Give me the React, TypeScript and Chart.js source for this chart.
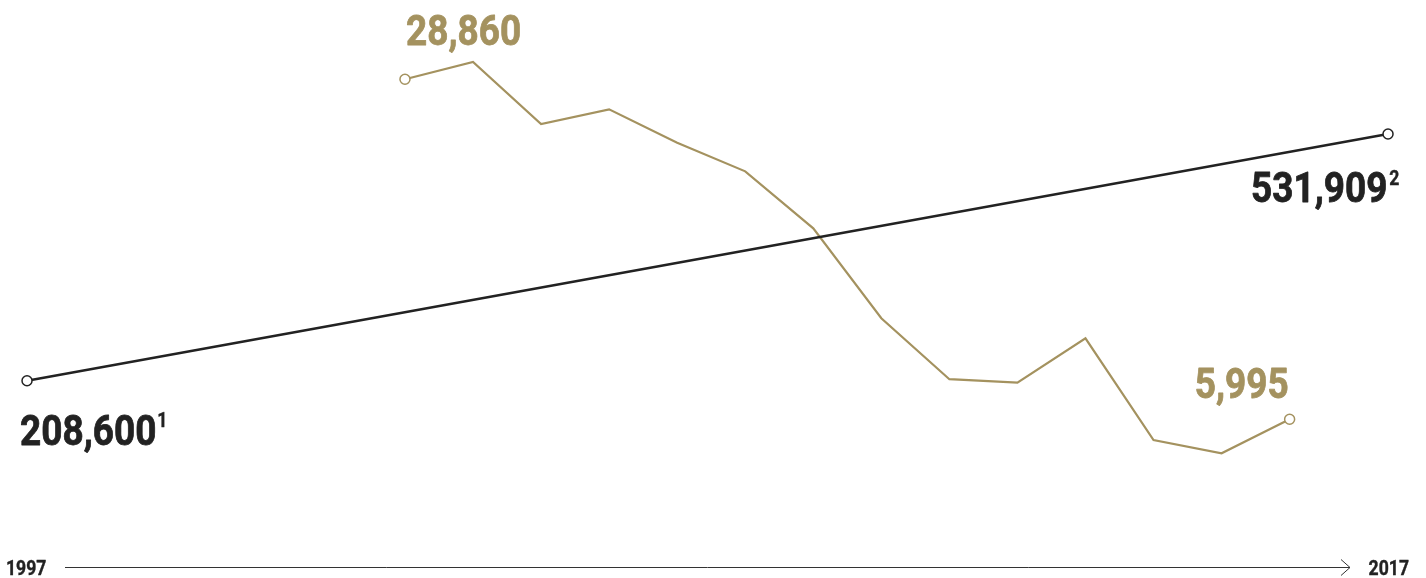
import React, { useEffect, useRef } from "react";
import { Chart, registerables } from "chart.js";

Chart.register(...registerables);

// Total series (two endpoints)
const totalYears = [1997, 2017];
const totalValues = [208600, 531909];
const totalLabels = ["208,600", "531,909"];
const totalNotes = ["1", "2"];

// Gold series
const goldYears = [2003, 2004, 2005, 2006, 2007, 2008, 2009, 2010, 2011, 2012, 2013, 2014, 2015, 2016];
const goldValues = [28860, 30020, 25850, 26840, 24600, 22670, 18840, 12790, 8690, 8460, 11440, 4600, 3710, 5995];
const goldLabels = ["28,860", "5,995"];

// Axis labels
const axisLabels = ["1997", "2017"];

const GOLD = "#a4925f";
const DARK = "#222222";
const FONT = "Roboto, 'Noto Sans', sans-serif";
const SQUEEZE = 0.88;

function drawText(
  ctx: CanvasRenderingContext2D,
  text: string,
  x: number,
  y: number,
  size: number,
  color: string,
  stroke = 0.8
): number {
  ctx.save();
  ctx.font = `bold ${size}px ${FONT}`;
  ctx.fillStyle = color;
  ctx.strokeStyle = color;
  ctx.lineWidth = stroke;
  ctx.lineJoin = "round";
  ctx.textAlign = "left";
  ctx.textBaseline = "alphabetic";
  const w = ctx.measureText(text).width * SQUEEZE;
  ctx.translate(x, y);
  ctx.scale(SQUEEZE, 1);
  ctx.fillText(text, 0, 0);
  if (stroke > 0) ctx.strokeText(text, 0, 0);
  ctx.restore();
  return w;
}

function measure(ctx: CanvasRenderingContext2D, text: string, size: number): number {
  ctx.save();
  ctx.font = `bold ${size}px ${FONT}`;
  const w = ctx.measureText(text).width * SQUEEZE;
  ctx.restore();
  return w;
}

const overlay = {
  id: "overlay",
  afterDraw(chart: any) {
    const ctx: CanvasRenderingContext2D = chart.ctx;
    const totalMeta = chart.getDatasetMeta(0);
    const goldMeta = chart.getDatasetMeta(1);
    const W = chart.width;

    // bottom time axis with arrow
    const ay = 567.5;
    ctx.save();
    ctx.strokeStyle = "#333";
    ctx.lineWidth = 1;
    ctx.beginPath();
    ctx.moveTo(65, ay);
    ctx.lineTo(1350, ay);
    ctx.moveTo(1341, ay - 8);
    ctx.lineTo(1350, ay);
    ctx.lineTo(1341, ay + 8);
    ctx.stroke();
    ctx.restore();
    drawText(ctx, axisLabels[0], 6, 575, 20, DARK, 0.4);
    drawText(ctx, axisLabels[1], W - 17 - measure(ctx, axisLabels[1], 20), 575, 20, DARK, 0.4);

    // total labels
    const p0 = totalMeta.data[0];
    const p1 = totalMeta.data[1];
    const w0 = drawText(ctx, totalLabels[0], p0.x - 7, p0.y + 64.5, 42, DARK);
    drawText(ctx, totalNotes[0], p0.x - 7 + w0 + 1, p0.y + 46.5, 20, DARK, 0.4);
    const w1 = drawText(ctx, totalLabels[1], p1.x - 137, p1.y + 68, 42, DARK);
    drawText(ctx, totalNotes[1], p1.x - 137 + w1 + 2, p1.y + 51, 20, DARK, 0.4);

    // gold labels
    const g0 = goldMeta.data[0];
    const gN = goldMeta.data[goldMeta.data.length - 1];
    drawText(ctx, goldLabels[0], g0.x + 1, g0.y - 34, 42, GOLD);
    drawText(ctx, goldLabels[1], gN.x - 1 - measure(ctx, goldLabels[1], 42), gN.y - 21, 42, GOLD);
  },
};

export default function App() {
  const ref = useRef<HTMLCanvasElement | null>(null);

  useEffect(() => {
    document.body.style.margin = "0";
    if (!ref.current) return;
    const last = goldValues.length - 1;
    const chart = new Chart(ref.current, {
      type: "line",
      data: {
        datasets: [
          {
            data: totalYears.map((x, i) => ({ x, y: totalValues[i] })),
            borderColor: DARK,
            borderWidth: 2.5,
            pointRadius: 5,
            pointBorderWidth: 1.5,
            pointBorderColor: DARK,
            pointBackgroundColor: "#fff",
            xAxisID: "x",
            yAxisID: "y",
            tension: 0,
          },
          {
            data: goldYears.map((x, i) => ({ x, y: goldValues[i] })),
            borderColor: GOLD,
            borderWidth: 2.2,
            pointRadius: goldYears.map((_, i) => (i === 0 || i === last ? 5 : 0)),
            pointBorderWidth: 1.5,
            pointBorderColor: GOLD,
            pointBackgroundColor: "#fff",
            xAxisID: "x2",
            yAxisID: "y2",
            tension: 0,
          },
        ],
      },
      options: {
        animation: false,
        responsive: false,
        layout: { padding: 0, autoPadding: false },
        plugins: {
          legend: { display: false },
          tooltip: { enabled: false },
          title: { display: false },
        },
        scales: {
          x: { type: "linear", display: false, min: 1996.603, max: 2017.558 },
          x2: { type: "linear", display: false, min: 1997.049, max: 2018.004 },
          y: { type: "linear", display: false, min: -49956, max: 707516 },
          y2: { type: "linear", display: false, min: -4678, max: 34193 },
        },
      },
      plugins: [overlay],
    });
    return () => chart.destroy();
  }, []);

  return (
    <div style={{ width: 1426, height: 578 }}>
      <canvas ref={ref} width={1426} height={578} style={{ display: "block" }} />
    </div>
  );
}
